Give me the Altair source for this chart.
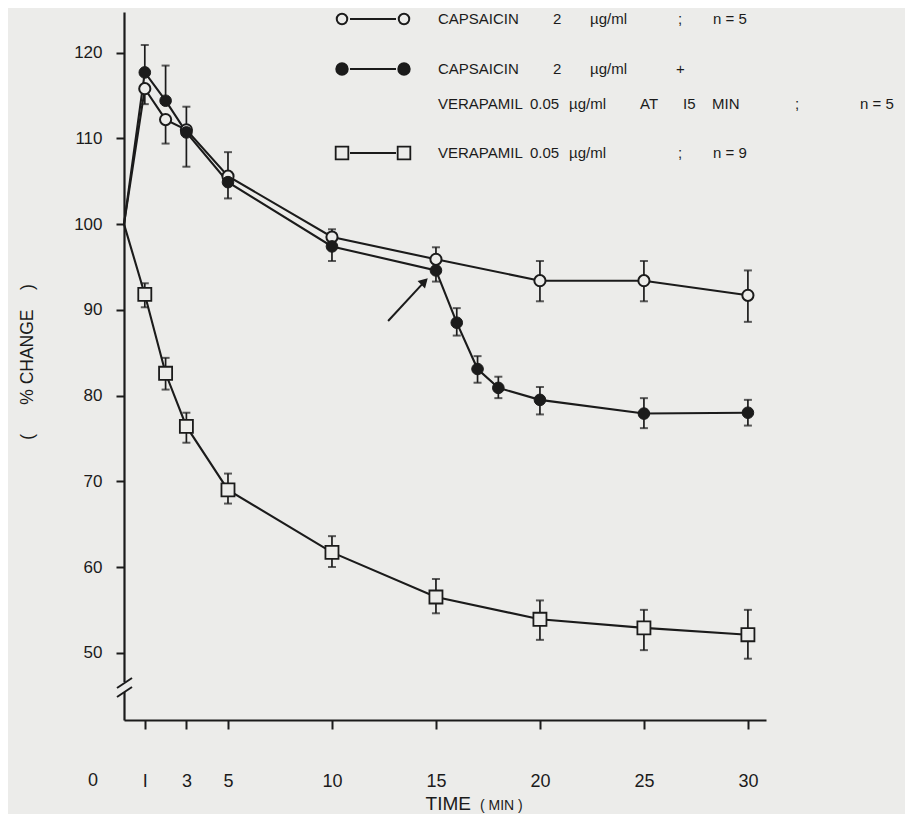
import altair as alt
import pandas as pd

# ---------------- data ----------------
t_cap = [0, 1, 2, 3, 5, 10, 15, 20, 25, 30]
cap_val = [100, 115.8, 112.2, 111.0, 105.6, 98.5, 95.9, 93.4, 93.4, 91.7]
cap_up = [0, 0, 0, 0, 2.8, 0.9, 1.4, 2.3, 2.3, 2.9]
cap_dn = [0, 1.8, 2.8, 4.3, 0, 0, 0, 2.4, 2.4, 3.1]

t_cv = [0, 1, 2, 3, 5, 10, 15, 16, 17, 18, 20, 25, 30]
cv_val = [100, 117.7, 114.4, 110.7, 104.9, 97.4, 94.6, 88.5, 83.1, 80.9, 79.5, 77.9, 78.0]
cv_up = [0, 3.2, 4.1, 3.0, 0, 0, 0, 1.7, 1.5, 1.3, 1.5, 1.8, 1.5]
cv_dn = [0, 0, 0, 0, 1.9, 1.7, 1.3, 1.5, 1.6, 1.2, 1.7, 1.7, 1.5]

t_ver = [0, 1, 2, 3, 5, 10, 15, 20, 25, 30]
ver_val = [100, 91.8, 82.6, 76.4, 69.0, 61.7, 56.5, 53.9, 52.9, 52.1]
ver_up = [0, 1.3, 1.8, 1.6, 1.9, 1.9, 2.1, 2.2, 2.1, 2.9]
ver_dn = [0, 1.5, 1.9, 1.9, 1.6, 1.7, 1.9, 2.4, 2.6, 2.8]

x_ticks = [1, 3, 5, 10, 15, 20, 25, 30]
y_ticks = [50, 60, 70, 80, 90, 100, 110, 120]

# arrow (annotation, data units)
arrow_x = [12.7, 14.45]
arrow_y = [88.7, 93.3]

# ---------------- styling ----------------
INK = "#1b1b1b"
BG = "#ececea"
FONT = "Liberation Sans"
NUMFONT = "Liberation Sans Narrow, Liberation Sans, sans-serif"
W, H = 642, 708
NB = "\u00a0"

def frame(t, v, up, dn, name):
    return pd.DataFrame({"t": t, "v": v, "up": up, "dn": dn, "series": name})

df = pd.concat([
    frame(t_cap, cap_val, cap_up, cap_dn, "cap"),
    frame(t_cv, cv_val, cv_up, cv_dn, "cv"),
    frame(t_ver, ver_val, ver_up, ver_dn, "ver"),
], ignore_index=True)
df["hi"] = df["v"] + df["up"]
df["lo"] = df["v"] - df["dn"]
pts = df[df["t"] > 0]
errs = pts[(pts["up"] > 0) | (pts["dn"] > 0)]
top_caps = pts[pts["up"] > 0]
bot_caps = pts[pts["dn"] > 0]

xs = alt.Scale(domain=[0, 30.87], nice=False, zero=False)
ys = alt.Scale(domain=[42.15, 124.75], nice=False, zero=False)

xaxis = alt.Axis(values=x_ticks, title=None, grid=False, tickSize=9, tickWidth=2,
                 domainWidth=2.2, domainColor=INK, tickColor=INK, labelColor=INK,
                 labelFont=NUMFONT, labelFontSize=18, labelPadding=43,
                 labelExpr="datum.value == 1 ? 'I' : datum.label")
yaxis = alt.Axis(values=y_ticks, title=None, grid=False, tickSize=8, tickWidth=2,
                 domainWidth=2.2, domainColor=INK, tickColor=INK, labelColor=INK,
                 labelFont=NUMFONT, labelFontSize=17, labelPadding=14)

lines = alt.Chart(df).mark_line(color=INK, strokeWidth=2.1).encode(
    x=alt.X("t:Q", scale=xs, axis=xaxis),
    y=alt.Y("v:Q", scale=ys, axis=yaxis),
    detail="series:N",
    order="t:Q",
)

err_rules = alt.Chart(errs).mark_rule(color=INK, strokeWidth=1.7).encode(
    x="t:Q", y="lo:Q", y2="hi:Q")
caps_top = alt.Chart(top_caps).mark_tick(orient="horizontal", size=8, thickness=2, color=INK).encode(
    x="t:Q", y="hi:Q")
caps_bot = alt.Chart(bot_caps).mark_tick(orient="horizontal", size=8, thickness=2, color=INK).encode(
    x="t:Q", y="lo:Q")

open_c = alt.Chart(pts[pts["series"] == "cap"]).mark_point(
    shape="circle", filled=True, fill=BG, stroke=INK, strokeWidth=2, size=125, opacity=1
).encode(x="t:Q", y="v:Q")
filled_c = alt.Chart(pts[pts["series"] == "cv"]).mark_point(
    shape="circle", filled=True, fill=INK, stroke=INK, strokeWidth=1, size=135, opacity=1
).encode(x="t:Q", y="v:Q")
squares = alt.Chart(pts[pts["series"] == "ver"]).mark_point(
    shape="square", filled=True, fill=BG, stroke=INK, strokeWidth=1.8, size=170, opacity=1
).encode(x="t:Q", y="v:Q")

# arrow
arr = pd.DataFrame({"x": [arrow_x[0]], "y": [arrow_y[0]], "x2": [arrow_x[1]], "y2": [arrow_y[1]]})
arrow_shaft = alt.Chart(arr).mark_rule(color=INK, strokeWidth=2).encode(
    x="x:Q", y="y:Q", x2="x2:Q", y2="y2:Q")
arrow_head = alt.Chart(arr).mark_point(shape="triangle-up", filled=True, color=INK,
                                       size=110, angle=45, opacity=1).encode(
    x="x2:Q", y="y2:Q")

one = pd.DataFrame({"a": [0]})

def txt(s, px, py, size=15, align="left", font=FONT, angle=0, baseline="middle"):
    kw = dict(text=s, align=align, baseline=baseline, font=font, fontSize=size, color=INK)
    if angle:
        kw["angle"] = angle
    return alt.Chart(one).mark_text(**kw).encode(x=alt.value(px), y=alt.value(py))

def seg(x1, y1, x2, y2, color=INK, w=2):
    return alt.Chart(one).mark_rule(color=color, strokeWidth=w).encode(
        x=alt.value(x1), y=alt.value(y1), x2=alt.value(x2), y2=alt.value(y2))

OX, OY = 124, 12  # plot origin in page pixels

def P(x, y):
    return x - OX, y - OY

deco = []
# axis break
deco.append(seg(0, 670, 0, 680, color=BG, w=6))
deco.append(seg(-7, 676, 8, 666))
deco.append(seg(-7, 685, 8, 675))
# origin "0"
deco.append(txt("0", -31, 769, size=18, align="center", font=NUMFONT))
# axis titles
deco.append(txt("(" + NB * 6 + "%" + NB + "CHANGE" + NB * 4 + ")", -96, 350, size=17.5,
                align="center", angle=270))
deco.append(txt("TIME", 347, 802, size=19, align="right", baseline="bottom"))
deco.append(txt("(" + NB + "MIN" + NB + ")", 356, 801, size=14, align="left", baseline="bottom"))

# legend
r1, r2, r3, r4 = 19, 69, 104, 153
sx1, sx2, tx = 342, 404, 438
for (ry, kind) in [(r1, "open"), (r2, "filled"), (r4, "square")]:
    ax, ay = P(sx1, ry)
    bx, by = P(sx2, ry)
    deco.append(seg(ax + 8, ay, bx - 8, by))
    for px in (ax, bx):
        if kind == "open":
            m = alt.Chart(one).mark_point(shape="circle", filled=True, fill=BG, stroke=INK,
                                          strokeWidth=2, size=110, opacity=1)
        elif kind == "filled":
            m = alt.Chart(one).mark_point(shape="circle", filled=True, fill=INK, stroke=INK,
                                          size=130, opacity=1)
        else:
            m = alt.Chart(one).mark_point(shape="square", filled=True, fill=BG, stroke=INK,
                                          strokeWidth=1.8, size=160, opacity=1)
        deco.append(m.encode(x=alt.value(px), y=alt.value(ay)))

def row(ry, pieces):
    for s, px in pieces:
        x, y = P(px, ry)
        deco.append(txt(s, x, y, size=15))

row(r1, [("CAPSAICIN", tx), ("2", 553), ("\u00b5g/ml", 590), (";", 678), ("n = 5", 713)])
row(r2, [("CAPSAICIN", tx), ("2", 553), ("\u00b5g/ml", 590), ("+", 676)])
row(r3, [("VERAPAMIL", tx), ("0.05", 530), ("\u00b5g/ml", 569), ("AT", 640), ("I5", 683),
         ("MIN", 712), (";", 795), ("n = 5", 860)])
row(r4, [("VERAPAMIL", tx), ("0.05", 530), ("\u00b5g/ml", 569), (";", 678), ("n = 9", 713)])

chart = alt.layer(
    lines, err_rules, caps_top, caps_bot, arrow_shaft, arrow_head,
    squares, open_c, filled_c, *deco
).properties(
    width=W, height=H,
    autosize=alt.AutoSizeParams(type="none"),
    padding={"left": 116, "top": 4, "right": 139, "bottom": 94},
    background=BG,
).configure_view(stroke=None)

chart.save("out.html", embed_options={"renderer": "svg", "actions": False})
